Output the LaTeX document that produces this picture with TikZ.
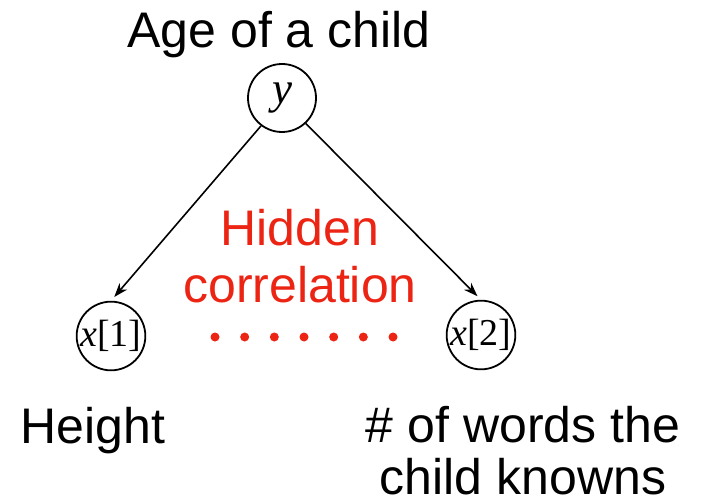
\documentclass[tikz,border=0pt]{standalone}
\usepackage{fontspec}
\setmainfont{Liberation Sans}
\newfontfamily\serifm{Liberation Serif}
\usetikzlibrary{arrows.meta}
\definecolor{hidred}{RGB}{236,36,20}
\begin{document}
\begin{tikzpicture}[x=1pt,y=-1pt,
  big/.style={font=\fontsize{50}{55}\selectfont, inner sep=0pt, anchor=base},
  var/.style={circle, draw, line width=1.8pt, minimum size=68pt, inner sep=0pt,
    font=\serifm\fontsize{38}{40}\selectfont},
  edge/.style={line width=1.6pt, -{Stealth[length=14pt,width=10pt]}, shorten >=5pt},
  dot/.style={circle, fill=hidred, inner sep=0pt, minimum size=9pt}]
\useasboundingbox (0,0) rectangle (702,503);
\node[big] (age) at (279,48) {Age of a child};
\node[var] (y) at (282,98) {\fontsize{45}{45}\selectfont\itshape y};
\node[var] (x1) at (111,336) {{\itshape x}[1]};
\node[var] (x2) at (481,335) {{\itshape x}[2]};
\draw[edge] (y.233) -- (x1.north);
\draw[edge] (y.313) -- (x2.north);
\node[big, text=hidred] (hid) at (300,245) {Hidden};
\node[big, text=hidred] (cor) at (300,302) {correlation};
\foreach \i in {0,...,6} {
  \node[dot] (d\i) at ({215+29.67*\i},337) {};
}
\node[big] (hgt) at (93,443) {Height};
\node[big] (w1) at (523,442) {\# of words the};
\node[big] (w2) at (523,494) {child knowns};
\end{tikzpicture}
\end{document}
